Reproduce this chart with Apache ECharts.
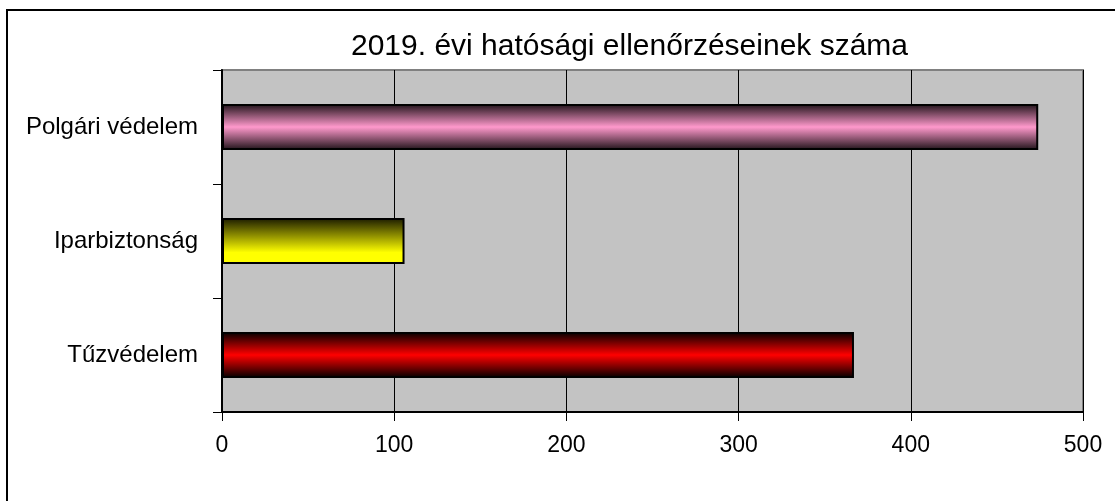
<!DOCTYPE html>
<html>
<head>
<meta charset="utf-8">
<script src="https://cdn.jsdelivr.net/npm/echarts@6/dist/echarts.min.js"></script>
<style>
	html, body { margin: 0; padding: 0; background: #fff; }
	#chart { width: 1115px; height: 501px; }
</style>
</head>
<body>
<div id="chart"></div>
<script>
const titleText = "2019. évi hatósági ellenőrzéseinek száma"
const categories = ["Tűzvédelem", "Iparbiztonság", "Polgári védelem"]
const values = [367, 106, 474]
const xTicks = [0, 100, 200, 300, 400, 500]

// vertical gradients, one per bar (bottom to top order like categories)
const gradients = [
	[
		{ offset: 0, color: "#000000" },
		{ offset: 0.5, color: "#ff0000" },
		{ offset: 1, color: "#000000" },
	],
	[
		{ offset: 0, color: "#1a1a00" },
		{ offset: 0.75, color: "#ffff00" },
		{ offset: 1, color: "#ffff00" },
	],
	[
		{ offset: 0, color: "#1e1218" },
		{ offset: 0.5, color: "#ff99cc" },
		{ offset: 1, color: "#1e1218" },
	],
]

const font = "'Liberation Sans', Arial, sans-serif"
const chart = echarts.init(document.getElementById("chart"))

let options = {
	animation: false,
	backgroundColor: "#ffffff",
	title: {
		text: titleText,
		left: 346,
		top: 27,
		textStyle: {
			fontFamily: font,
			fontSize: 30,
			fontWeight: "normal",
			color: "#000",
		},
	},
	graphic: [
		{
			type: "rect",
			shape: { x: 7, y: 10, width: 1130, height: 520 },
			style: { fill: "none", stroke: "#000", lineWidth: 2 },
			silent: true,
		},
	],
	grid: {
		left: 222,
		top: 70,
		right: 32,
		bottom: 89,
		show: true,
		backgroundColor: "#c3c3c3",
		borderColor: "#808080",
		borderWidth: 2,
	},
	xAxis: {
		type: "value",
		min: xTicks[0],
		max: xTicks[xTicks.length - 1],
		interval: xTicks[1] - xTicks[0],
		axisLine: { show: true, lineStyle: { color: "#000", width: 2 } },
		axisTick: { show: true, length: 9, lineStyle: { color: "#000", width: 1 } },
		axisLabel: {
			margin: 22,
			fontFamily: font,
			fontSize: 23,
			color: "#000",
		},
		splitLine: { show: true, lineStyle: { color: "#000", width: 1 } },
	},
	yAxis: {
		type: "category",
		data: categories,
		axisLine: { show: true, lineStyle: { color: "#000", width: 2 } },
		axisTick: { show: true, length: 9, lineStyle: { color: "#000", width: 1 } },
		axisLabel: {
			margin: 24,
			fontFamily: font,
			fontSize: 24,
			color: "#000",
		},
		splitLine: { show: false },
	},
	series: [
		{
			type: "bar",
			barWidth: 46,
			data: values.map((v, i) => ({
				value: v,
				itemStyle: {
					color: new echarts.graphic.LinearGradient(0, 0, 0, 1, gradients[i]),
					borderColor: "#000",
					borderWidth: 2,
				},
			})),
		},
	],
}

chart.setOption(options)
</script>
</body>
</html>
